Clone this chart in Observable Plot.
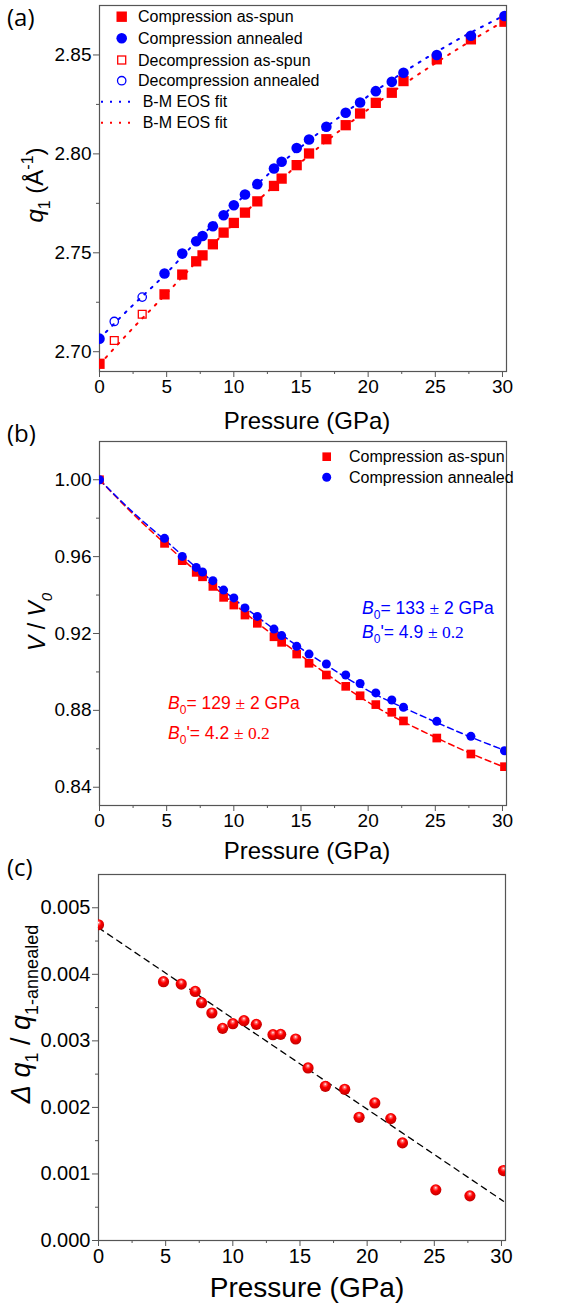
<!DOCTYPE html>
<html><head><meta charset="utf-8">
<script src="https://cdn.jsdelivr.net/npm/d3@7"></script>
<script src="https://cdn.jsdelivr.net/npm/@observablehq/plot@0.6"></script>
<style>
body{margin:0;background:#fff;}
#wrap{position:relative;width:571px;height:1305px;overflow:hidden;background:#fff;}
#wrap svg{position:absolute;left:0;}
</style></head><body><div id="wrap"></div>
<script>
// ---------- data ----------
const pressure = [0, 4.84, 6.16, 7.2, 7.67, 8.44, 9.24, 10.0, 10.83, 11.75, 12.99, 13.56, 14.68, 15.6, 16.89, 18.33, 19.4, 20.57, 21.76, 22.63, 25.11, 27.65, 30.15];
const q1AsSpun   = [2.6939, 2.7290, 2.7390, 2.7457, 2.7487, 2.7543, 2.7602, 2.7651, 2.7703, 2.7760, 2.7838, 2.7875, 2.7943, 2.8002, 2.8074, 2.8145, 2.8204, 2.8258, 2.8309, 2.8368, 2.8478, 2.8579, 2.8668];
const q1Annealed = [2.7066, 2.7395, 2.7496, 2.7558, 2.7585, 2.7634, 2.7690, 2.7740, 2.7795, 2.7847, 2.7926, 2.7960, 2.8030, 2.8073, 2.8137, 2.8208, 2.8260, 2.8317, 2.8364, 2.8410, 2.8500, 2.8597, 2.8697];
const decompPressure = [1.1, 3.18];
const decompAsSpun   = [2.7057, 2.7189];
const decompAnnealed = [2.7153, 2.7276];
const fitPressure = [0, 2.5, 5, 7.5, 10, 12.5, 15, 17.5, 20, 22.5, 25, 27.5, 30.3];
const fitQAnnealed = [2.7066, 2.7236, 2.7398, 2.7578, 2.7740, 2.7893, 2.8035, 2.8168, 2.8292, 2.8407, 2.8512, 2.8608, 2.8705];
const fitQAsSpun   = [2.6935, 2.7120, 2.7295, 2.7475, 2.7648, 2.7808, 2.7958, 2.8097, 2.8225, 2.8345, 2.8458, 2.8565, 2.8678];

const vAsSpun   = [1.000, 0.9669, 0.9579, 0.9518, 0.9495, 0.9445, 0.9388, 0.9348, 0.9296, 0.9253, 0.9183, 0.9154, 0.9093, 0.9045, 0.8984, 0.8925, 0.8876, 0.8830, 0.8790, 0.8745, 0.8656, 0.8573, 0.8507];
const vAnnealed = [1.000, 0.9695, 0.9601, 0.9544, 0.9520, 0.9475, 0.9426, 0.9385, 0.9333, 0.9289, 0.9223, 0.9189, 0.9133, 0.9093, 0.9041, 0.8984, 0.8940, 0.8891, 0.8854, 0.8816, 0.8743, 0.8665, 0.8590];
const fitVAsSpun   = [1.0, 0.9822, 0.9660, 0.9505, 0.9355, 0.9215, 0.9085, 0.8960, 0.8843, 0.8745, 0.8660, 0.8580, 0.8500];
const fitVAnnealed = [1.0, 0.9830, 0.9678, 0.9525, 0.9380, 0.9248, 0.9122, 0.9008, 0.8903, 0.8818, 0.8740, 0.8665, 0.8588];

const dqRatio = [0.004745, 0.003889, 0.003854, 0.003743, 0.003574, 0.003419, 0.003188, 0.003258, 0.003303, 0.003248, 0.003093, 0.003098, 0.003028, 0.002593, 0.002317, 0.002272, 0.001851, 0.002067, 0.001832, 0.001467, 0.000761, 0.000671, 0.001051];
const linFitPressure = [0, 30.15];
const linFitRatio = [0.00470, 0.00059];

const xMajor = [0, 5, 10, 15, 20, 25, 30];
const xMinor = [2.5, 7.5, 12.5, 17.5, 22.5, 27.5];
const yMajorA = [2.70, 2.75, 2.80, 2.85];
const yMinorA = [2.725, 2.775, 2.825];
const yMajorB = [0.84, 0.88, 0.92, 0.96, 1.00];
const yMinorB = [0.86, 0.90, 0.94, 0.98];
const yMajorC = [0, 0.001, 0.002, 0.003, 0.004, 0.005];
const yMinorC = [0.0005, 0.0015, 0.0025, 0.0035, 0.0045];

// ---------- helpers ----------
const FONT = '"Liberation Sans", Arial, sans-serif';
const SERIF = '"Liberation Serif", "Times New Roman", serif';
const RED = "#ff0000", BLUE = "#0000ff", AX = "#555";
const wrap = document.getElementById("wrap");

function axes(yMajor, yMinor, yFmt) {
  return [
    Plot.axisX({ticks: xMajor, tickSize: 6, tickPadding: 2, label: null, stroke: AX, fill: "black", tickFormat: d => String(d)}),
    Plot.axisX({ticks: xMinor, tickSize: 3, label: null, stroke: AX, tickFormat: () => ""}),
    Plot.axisY({ticks: yMajor, tickSize: 6, tickPadding: 2, label: null, stroke: AX, fill: "black", tickFormat: yFmt}),
    Plot.axisY({ticks: yMinor, tickSize: 3, label: null, stroke: AX, tickFormat: () => ""}),
    Plot.frame({stroke: AX, strokeWidth: 1.2})
  ];
}
const baseStyle = {fontFamily: FONT, fontSize: "19px", background: "none", overflow: "visible", color: "black"};

function addText(svg, {x, y, rotate = 0, anchor = "start", size = 16, fill = "black", family = FONT, parts}) {
  const t = d3.select(svg).append("text")
    .attr("transform", `translate(${x},${y}) rotate(${rotate})`)
    .attr("text-anchor", anchor).attr("font-family", family)
    .attr("font-size", size).attr("fill", fill);
  let shift = 0;
  for (const p of parts) {
    const s = t.append("tspan").text(p.t);
    let target = 0;
    if (p.sub) target = size * 0.3;
    if (p.sup) target = -size * 0.4;
    if (target !== shift) { s.attr("dy", target - shift); shift = target; }
    if (p.italic) s.attr("font-style", "italic");
    if (p.size) s.attr("font-size", p.size);
    if (p.family) s.attr("font-family", p.family);
  }
  return t;
}

// ---------- panel (a) ----------
const rows = pressure.map((p, i) => ({p, asSpun: q1AsSpun[i], annealed: q1Annealed[i], vs: vAsSpun[i], va: vAnnealed[i], dq: dqRatio[i]}));
const decomp = decompPressure.map((p, i) => ({p, asSpun: decompAsSpun[i], annealed: decompAnnealed[i]}));
const fits = fitPressure.map((p, i) => ({p, qa: fitQAnnealed[i], qs: fitQAsSpun[i], va: fitVAnnealed[i], vs: fitVAsSpun[i]}));
const lin = linFitPressure.map((p, i) => ({p, r: linFitRatio[i]}));

const svgA = Plot.plot({
  width: 571, height: 430, marginTop: 5, marginBottom: 59, marginLeft: 99, marginRight: 65,
  x: {domain: [0, 30.3]}, y: {domain: [2.690, 2.875]},
  style: baseStyle,
  marks: [
    ...axes(yMajorA, yMinorA, d3.format(".2f")),
    Plot.line(fits, {x: "p", y: "qs", stroke: RED, strokeWidth: 2, strokeDasharray: "2,7", curve: "natural", clip: true}),
    Plot.line(fits, {x: "p", y: "qa", stroke: BLUE, strokeWidth: 2, strokeDasharray: "2,7", curve: "natural", clip: true}),
    Plot.dot(rows, {x: "p", y: "asSpun", symbol: "square", r: 5.8, fill: RED, clip: true}),
    Plot.dot(rows, {x: "p", y: "annealed", symbol: "circle", r: 5.3, fill: BLUE, clip: true}),
    Plot.dot(decomp, {x: "p", y: "asSpun", symbol: "square", r: 4.4, fill: "none", stroke: RED, strokeWidth: 1.3}),
    Plot.dot(decomp, {x: "p", y: "annealed", symbol: "circle", r: 4.2, fill: "none", stroke: BLUE, strokeWidth: 1.3})
  ]
});
svgA.style.top = "0px";
wrap.appendChild(svgA);

// legend (a)
{
  const g = d3.select(svgA).append("g");
  const ys = [16.7, 38.3, 60, 80.7, 101.7, 122.7];
  const labels = ["Compression as-spun", "Compression annealed", "Decompression as-spun", "Decompression annealed", "B-M EOS fit", "B-M EOS fit"];
  g.append("rect").attr("x", 121.7 - 5.2).attr("y", ys[0] - 5.2).attr("width", 10.4).attr("height", 10.4).attr("fill", RED);
  g.append("circle").attr("cx", 121.7).attr("cy", ys[1]).attr("r", 5.3).attr("fill", BLUE);
  g.append("rect").attr("x", 121.7 - 4).attr("y", ys[2] - 4).attr("width", 8).attr("height", 8).attr("fill", "none").attr("stroke", RED).attr("stroke-width", 1.3);
  g.append("circle").attr("cx", 121.7).attr("cy", ys[3]).attr("r", 4.2).attr("fill", "none").attr("stroke", BLUE).attr("stroke-width", 1.3);
  g.append("line").attr("x1", 101).attr("x2", 134).attr("y1", ys[4]).attr("y2", ys[4]).attr("stroke", BLUE).attr("stroke-width", 2).attr("stroke-dasharray", "2,7");
  g.append("line").attr("x1", 101).attr("x2", 134).attr("y1", ys[5]).attr("y2", ys[5]).attr("stroke", RED).attr("stroke-width", 2).attr("stroke-dasharray", "2,7");
  labels.forEach((l, i) => addText(svgA, {x: i < 4 ? 138 : 142.7, y: ys[i] + 5.6, size: 16, parts: [{t: l}]}));
}
addText(svgA, {x: 43, y: 185, rotate: -90, anchor: "middle", size: 24, parts: [
  {t: "q", italic: true}, {t: "1", sub: true, size: 16}, {t: " (Å"}, {t: "-1", sup: true, size: 16}, {t: ")"}]});
addText(svgA, {x: 307, y: 429, anchor: "middle", size: 24, parts: [{t: "Pressure (GPa)"}]});
addText(svgA, {x: 7, y: 26, size: 24, family: '"Open Sans", "Noto Sans", sans-serif', parts: [{t: "(a)"}]});

// ---------- panel (b) ----------
const svgB = Plot.plot({
  width: 571, height: 440, marginTop: 16, marginBottom: 60, marginLeft: 99, marginRight: 65,
  x: {domain: [0, 30.3]}, y: {domain: [0.8305, 1.0199]},
  style: baseStyle,
  marks: [
    ...axes(yMajorB, yMinorB, d3.format(".2f")),
    Plot.line(fits, {x: "p", y: "vs", stroke: RED, strokeWidth: 1.5, strokeDasharray: "6,4", curve: "natural", clip: true}),
    Plot.line(fits, {x: "p", y: "va", stroke: BLUE, strokeWidth: 1.5, strokeDasharray: "6,4", curve: "natural", clip: true}),
    Plot.dot(rows, {x: "p", y: "vs", symbol: "square", r: 4.9, fill: RED, clip: true}),
    Plot.dot(rows, {x: "p", y: "va", symbol: "circle", r: 4.5, fill: BLUE, clip: true})
  ]
});
svgB.style.top = "425px";
wrap.appendChild(svgB);
{
  const g = d3.select(svgB).append("g");
  g.append("rect").attr("x", 326.7 - 4.3).attr("y", 31.7 - 4.3).attr("width", 8.6).attr("height", 8.6).attr("fill", RED);
  g.append("circle").attr("cx", 326.7).attr("cy", 52.3).attr("r", 4.5).attr("fill", BLUE);
  addText(svgB, {x: 349, y: 31.7 + 5.6, size: 16, parts: [{t: "Compression as-spun"}]});
  addText(svgB, {x: 349, y: 52.3 + 5.6, size: 16, parts: [{t: "Compression annealed"}]});
}
addText(svgB, {x: 362, y: 189, size: 17.5, fill: BLUE, parts: [
  {t: "B", italic: true}, {t: "0", sub: true, size: 12}, {t: "= 133 "}, {t: "±", family: SERIF}, {t: " 2 GPa"}]});
addText(svgB, {x: 362, y: 213, size: 17.5, fill: BLUE, parts: [
  {t: "B", italic: true}, {t: "0", sub: true, size: 12}, {t: "'= 4.9 "}, {t: "± 0.2", family: SERIF}]});
addText(svgB, {x: 168, y: 284, size: 17.5, fill: RED, parts: [
  {t: "B", italic: true}, {t: "0", sub: true, size: 12}, {t: "= 129 "}, {t: "±", family: SERIF}, {t: " 2 GPa"}]});
addText(svgB, {x: 168, y: 314, size: 17.5, fill: RED, parts: [
  {t: "B", italic: true}, {t: "0", sub: true, size: 12}, {t: "'= 4.2 "}, {t: "± 0.2", family: SERIF}]});
addText(svgB, {x: 45, y: 197, rotate: -90, anchor: "middle", size: 23, parts: [
  {t: "V", italic: true}, {t: " / "}, {t: "V", italic: true}, {t: "0", sub: true, italic: true, size: 15}]});
addText(svgB, {x: 307, y: 434, anchor: "middle", size: 24, parts: [{t: "Pressure (GPa)"}]});
addText(svgB, {x: 7, y: 17, size: 24, family: '"Open Sans", "Noto Sans", sans-serif', parts: [{t: "(b)"}]});

// ---------- panel (c) ----------
const svgC = Plot.plot({
  width: 571, height: 440, marginTop: 9, marginBottom: 65, marginLeft: 98, marginRight: 66,
  x: {domain: [0, 30.3]}, y: {domain: [0, 0.0055]},
  style: {...baseStyle, fontSize: "20px"},
  marks: [
    ...axes(yMajorC, yMinorC, d3.format(".3f")),
    Plot.line(lin, {x: "p", y: "r", stroke: "black", strokeWidth: 1.3, strokeDasharray: "6,5"}),
    Plot.dot(rows, {x: "p", y: "dq", r: 5.6, fill: "url(#ball)", clip: true})
  ]
});
svgC.style.top = "865px";
wrap.appendChild(svgC);
{
  const defs = d3.select(svgC).insert("defs", ":first-child");
  const gr = defs.append("radialGradient").attr("id", "ball").attr("cx", "0.45").attr("cy", "0.4").attr("r", "0.6").attr("fx", "0.5").attr("fy", "0.3");
  gr.append("stop").attr("offset", "0").attr("stop-color", "#ffffff");
  gr.append("stop").attr("offset", "0.18").attr("stop-color", "#ff7070");
  gr.append("stop").attr("offset", "0.45").attr("stop-color", "#ff0000");
  gr.append("stop").attr("offset", "1").attr("stop-color", "#c00000");
}
addText(svgC, {x: 30, y: 149, rotate: -90, anchor: "middle", size: 27, parts: [
  {t: "Δ", italic: true}, {t: " "}, {t: "q", italic: true}, {t: "1", sub: true, size: 18}, {t: " / "},
  {t: "q", italic: true}, {t: "1-annealed", sub: true, size: 18}]});
addText(svgC, {x: 307, y: 432, anchor: "middle", size: 28, parts: [{t: "Pressure (GPa)"}]});
addText(svgC, {x: 7, y: 11, size: 24, family: '"Open Sans", "Noto Sans", sans-serif', parts: [{t: "(c)"}]});
</script></body></html>
